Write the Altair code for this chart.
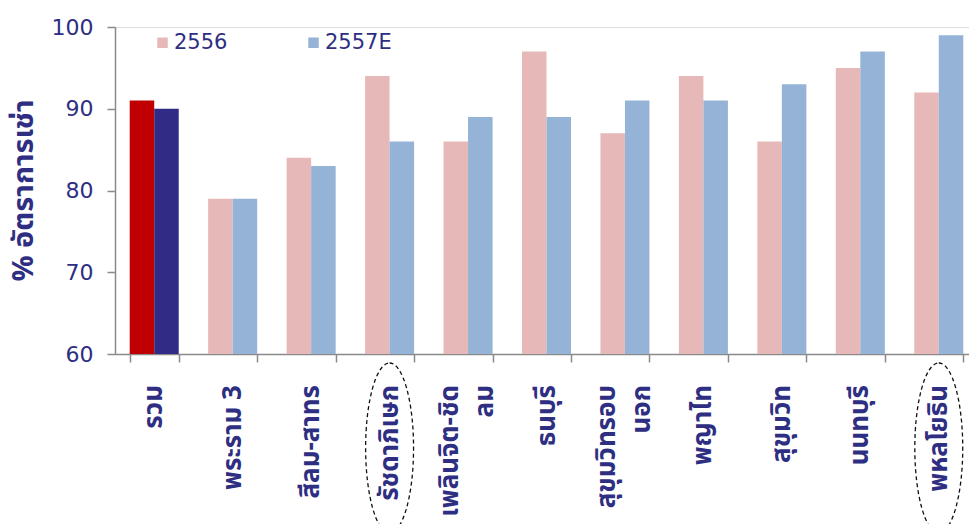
import altair as alt
import pandas as pd

categories = ["รวม", "พระราม 3", "สีลม-สาทร", "รัชดาภิเษก", "เพลินจิต-ชิดลม", "ธนบุรี",
              "สุขุมวิทรอบนอก", "พญาไท", "สุขุมวิท", "นนทบุรี", "พหลโยธิน"]
label_lines = [["รวม"], ["พระราม 3"], ["สีลม-สาทร"], ["รัชดาภิเษก"], ["เพลินจิต-ชิด", "ลม"],
               ["ธนบุรี"], ["สุขุมวิทรอบ", "นอก"], ["พญาไท"], ["สุขุมวิท"], ["นนทบุรี"],
               ["พหลโยธิน"]]
series = ["2556", "2557E"]
v2556 = [91, 79, 84, 94, 86, 97, 87, 94, 86, 95, 92]
v2557 = [90, 79, 83, 86, 89, 89, 91, 91, 93, 97, 99]
circled = ["รัชดาภิเษก", "พหลโยธิน"]

rows = []
for c, a, b in zip(categories, v2556, v2557):
    for s, v in zip(series, [a, b]):
        key = ("รวม " + s) if c == "รวม" else s
        rows.append({"cat": c, "series": s, "key": key, "value": v})
df = pd.DataFrame(rows)
circ_df = pd.DataFrame({"cat": circled})

lab_rows = []
for c, lines in zip(categories, label_lines):
    for i, t in enumerate(lines):
        kind = "single" if len(lines) == 1 else ("first" if i == 0 else "second")
        lab_rows.append({"cat": c, "text": t, "kind": kind})
lab_df = pd.DataFrame(lab_rows)

NAVY = "#2E2E82"
THAI = "Tahoma, 'Noto Sans Thai', 'Noto Sans', 'DejaVu Sans', sans-serif"

xscale = alt.Scale(domain=categories, range=[0, 863], paddingInner=0.375, paddingOuter=0.1875)
xenc = alt.X("cat:N", sort=categories, scale=xscale)

bars = alt.Chart(df).mark_bar().encode(
    x=alt.X("cat:N", sort=categories, scale=xscale,
            axis=alt.Axis(title=None, labels=False, tickBand="extent", tickSize=8,
                          domainColor="#8a8a8a", tickColor="#8a8a8a",
                          domainWidth=1.5, tickWidth=1.5)),
    xOffset=alt.XOffset("series:N", sort=series),
    y=alt.Y("value:Q", scale=alt.Scale(domain=[60, 100], zero=False),
            axis=alt.Axis(title="% อัตราการเช่า", values=[60, 70, 80, 90, 100], grid=False,
                          tickSize=8, labelFontSize=22, labelColor=NAVY, labelFont="DejaVu Sans",
                          labelPadding=14, domainColor="#8a8a8a", tickColor="#8a8a8a",
                          domainWidth=1.5, tickWidth=1.5,
                          titleFont=THAI, titleFontSize=29, titleFontWeight="bold",
                          titleColor=NAVY, titleX=-92, titleY=163, titleBaseline="middle")),
    y2=alt.datum(60),
    color=alt.Color("key:N",
                    scale=alt.Scale(domain=["2556", "2557E", "รวม 2556", "รวม 2557E"],
                                    range=["#E6B9B8", "#95B3D7", "#C00000", "#302C86"]),
                    legend=alt.Legend(title=None, values=["2556", "2557E"], orient="none",
                                      legendX=37, legendY=5, direction="horizontal",
                                      symbolType="square", symbolSize=110, symbolStrokeWidth=0,
                                      labelFontSize=21, labelColor=NAVY, labelFont="DejaVu Sans",
                                      labelOffset=1, columnPadding=75)),
)

def label_layer(kind, dy):
    return alt.Chart(lab_df).transform_filter(alt.datum.kind == kind).mark_text(
        angle=270, align="right", baseline="middle", dy=dy, font=THAI,
        fontSize=26, fontWeight="bold", color=NAVY,
    ).encode(x=xenc, y=alt.value(358), text="text:N")

ellipse = alt.Chart(circ_df).mark_point(
    shape="M0,-1 C0.1558,-1 0.282,-0.5523 0.282,0 C0.282,0.5523 0.1558,1 0,1 "
          "C-0.1558,1 -0.282,0.5523 -0.282,0 C-0.282,-0.5523 -0.1558,-1 0,-1 Z",
    size=28900, filled=False, strokeDash=[4, 3], strokeWidth=1.3, opacity=1,
).encode(
    x=xenc,
    y=alt.value(421),
    stroke=alt.value("#111111"),
)

chart = alt.layer(
    bars, label_layer("single", 0), label_layer("first", -18), label_layer("second", 17), ellipse
).properties(
    width=854, height=327,
    autosize=alt.AutoSizeParams(type="none"),
    padding={"left": 115, "top": 27, "right": 0, "bottom": 170},
).configure_view(strokeWidth=0).configure_axis(grid=False).configure(background="white")

chart.save("out.html", embed_options={"renderer": "svg", "actions": False})
